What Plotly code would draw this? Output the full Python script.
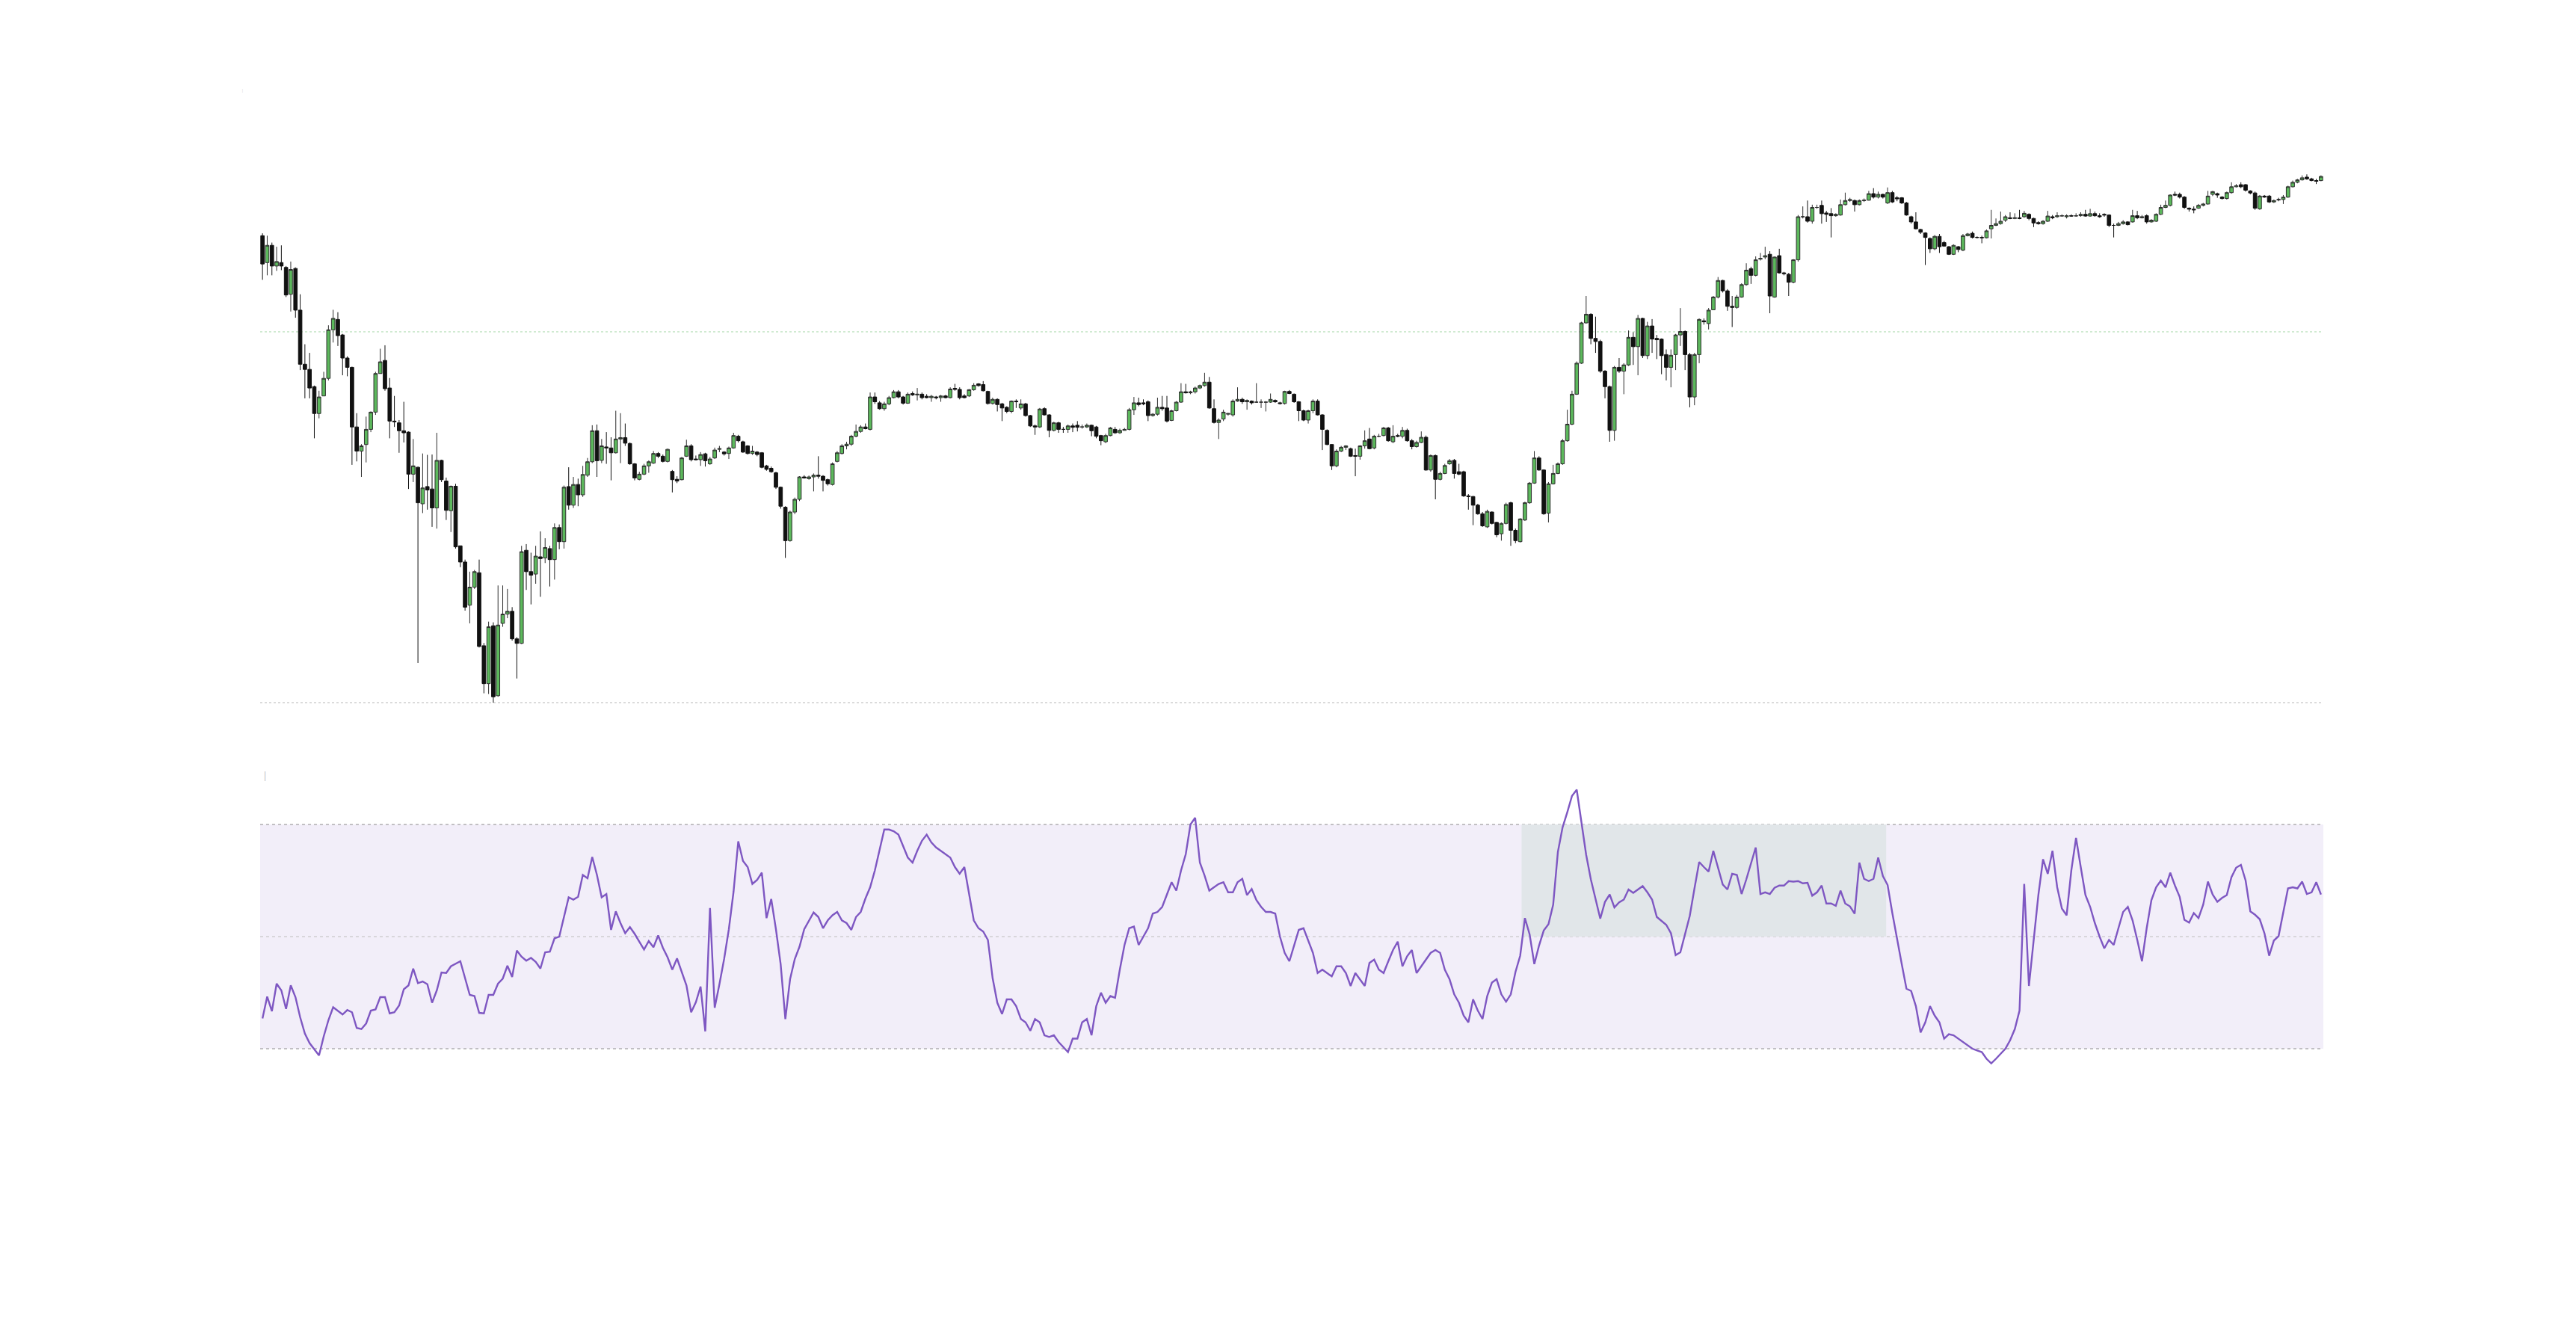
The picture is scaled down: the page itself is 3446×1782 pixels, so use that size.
import plotly.graph_objects as go

# ---------------- data ----------------
opens = [
    1410, 1332, 1382, 1322, 1332, 1318, 1240, 1315, 1194, 1037,
    1022, 972, 894, 945, 996, 1137, 1167, 1122, 1055, 1028,
    855, 785, 804, 848, 898, 1010, 1048, 968, 872, 867,
    844, 840, 718, 738, 632, 682, 675, 620, 758, 698,
    612, 683, 510, 463, 338, 390, 432, 220, 110, 278,
    75, 285, 312, 320, 240, 227, 497, 435, 428, 478,
    475, 502, 470, 563, 522, 682, 628, 688, 658, 715,
    754, 844, 758, 797, 794, 780, 820, 824, 807, 748,
    703, 718, 742, 750, 778, 770, 755, 726, 703, 702,
    770, 800, 762, 760, 777, 748, 765, 790, 782, 778,
    794, 828, 812, 800, 778, 782, 780, 742, 735, 722,
    680, 622, 525, 608, 645, 710, 705, 710, 715, 712,
    702, 688, 755, 778, 800, 805, 828, 842, 855, 848,
    942, 925, 908, 922, 940, 957, 942, 924, 952, 948,
    950, 944, 940, 942, 940, 945, 940,
    967, 964, 945, 945, 963, 980, 978, 958, 923, 935,
    922, 912, 900, 930, 910, 922, 888, 858, 855, 908,
    890, 845, 867, 848, 848, 858, 860, 855, 855, 860,
    855, 830, 812, 830, 848, 838, 845, 848, 905, 925,
    925, 928, 888, 892, 912, 910, 874, 902, 927, 957,
    954, 957, 968, 975, 985, 908, 868, 878, 892, 890,
    930, 935, 928, 930, 927, 927, 927, 927, 932, 925,
    923, 958, 950, 928, 902, 875, 902, 930, 890, 845,
    804, 742, 785, 796, 792, 772, 770, 800, 820, 794,
    828, 830, 852, 812, 830, 828, 845, 815, 798, 810,
    825, 730, 772, 703, 720, 748, 758, 725, 725, 655,
    653, 628, 603, 565, 608, 578, 545, 575, 635, 555,
    522, 585, 635, 692, 765, 730, 605, 690, 720, 748,
    815, 863, 950, 1040, 1157, 1182, 1112, 1103, 1017, 972,
    845, 1028, 1017, 1035, 1115, 1088, 1170,
    1062, 1148, 1112, 1110, 1065, 1028, 1065, 1122, 1132, 1065,
    942, 1065, 1163, 1155, 1195, 1232, 1280, 1250, 1205, 1202,
    1232, 1268, 1314, 1295, 1342, 1348, 1356, 1232, 1352, 1302,
    1298, 1275, 1340, 1465, 1465, 1452, 1492, 1498, 1476, 1474,
    1468, 1470, 1500, 1512, 1512, 1500, 1512, 1513, 1532, 1522,
    1530, 1505, 1535, 1520, 1520, 1505, 1465, 1450, 1428, 1418,
    1402, 1372, 1408, 1390, 1378, 1356, 1378, 1368, 1410, 1417,
    1405, 1405, 1404, 1430, 1440, 1445, 1455, 1462, 1460, 1462,
    1465, 1472, 1460, 1448, 1445, 1452, 1465, 1465, 1467, 1465,
    1468, 1467, 1468, 1472, 1467, 1474, 1468, 1472, 1470, 1440,
    1440, 1445, 1450, 1450, 1468, 1462, 1468, 1450, 1452, 1472,
    1492, 1498, 1530, 1530, 1522, 1490, 1487, 1490, 1498, 1502,
    1530, 1532, 1522, 1518, 1535, 1552, 1558, 1558, 1540, 1534,
    1488, 1525, 1525, 1508, 1515, 1515, 1522, 1552, 1565, 1572,
    1580, 1575, 1570, 1570,
]

highs = [
    1417, 1410, 1390, 1378, 1382, 1322, 1335, 1318, 1240, 1095,
    1070, 975, 960, 1015, 1150, 1195, 1188, 1125, 1060, 1030,
    895, 805, 885, 900, 1015, 1082, 1092, 997, 945, 875,
    928, 842, 820, 740, 778, 774, 775, 838, 760, 708,
    685, 690, 510, 470, 435, 440, 470, 228, 290, 288,
    395, 395, 385, 332, 245, 510, 515, 490, 510, 552,
    532, 510, 575, 572, 685, 738, 710, 705, 742, 765,
    860, 862, 820, 840, 825, 902, 895, 865, 810, 750,
    725, 748, 758, 785, 782, 775, 792, 730, 712, 768,
    818, 805, 772, 782, 780, 768, 795, 800, 785, 798,
    838, 832, 815, 802, 800, 785, 782, 745, 740, 725,
    682, 625, 612, 650, 712, 715, 714, 720, 770, 715,
    705, 752, 785, 805, 812, 832, 862, 860, 865, 955,
    955, 930, 928, 945, 962, 962, 945, 955, 958, 968,
    955, 950, 948, 945, 948, 948, 970,
    980, 970, 950, 965, 982, 982, 988, 960, 940, 938,
    925, 915, 932, 935, 935, 925, 890, 862, 910, 912,
    892, 870, 870, 855, 862, 865, 872, 862, 865, 862,
    858, 832, 835, 855, 855, 850, 852, 910, 942, 940,
    935, 932, 895, 940, 945, 945, 905, 930, 982, 980,
    960, 972, 978, 1012, 1000, 935, 880, 905, 895, 935,
    970, 940, 935, 932, 982, 935, 930, 952, 935, 928,
    960, 962, 952, 930, 905, 905, 935, 935, 892, 848,
    805, 790, 800, 802, 795, 792, 802, 845, 852, 832,
    835, 855, 855, 860, 835, 855, 850, 820, 815, 842,
    830, 775, 775, 725, 748, 762, 762, 748, 728, 660,
    655, 632, 608, 615, 610, 580, 578, 635, 638, 560,
    590, 638, 695, 785, 770, 732, 695, 745, 752, 820,
    905, 960, 1045, 1160, 1235, 1185, 1175, 1108, 1020, 975,
    1032, 1055, 1040, 1135, 1130, 1180, 1172,
    1160, 1168, 1122, 1112, 1080, 1080, 1125, 1200, 1135, 1070,
    1070, 1170, 1170, 1200, 1235, 1290, 1282, 1255, 1235, 1238,
    1272, 1330, 1320, 1350, 1360, 1378, 1365, 1350, 1372, 1305,
    1302, 1342, 1470, 1495, 1512, 1500, 1500, 1512, 1482, 1490,
    1475, 1515, 1535, 1520, 1515, 1515, 1518, 1540, 1548, 1538,
    1532, 1550, 1540, 1525, 1522, 1508, 1468, 1478, 1430, 1420,
    1405, 1412, 1415, 1395, 1380, 1385, 1380, 1415, 1418, 1422,
    1408, 1410, 1428, 1485, 1460, 1480, 1470, 1478, 1475, 1485,
    1482, 1475, 1462, 1452, 1455, 1482, 1470, 1478, 1472, 1472,
    1472, 1475, 1478, 1485, 1488, 1480, 1475, 1475, 1472, 1445,
    1450, 1455, 1452, 1485, 1482, 1470, 1472, 1458, 1475, 1500,
    1512, 1530, 1538, 1535, 1525, 1492, 1495, 1502, 1505, 1540,
    1540, 1535, 1525, 1538, 1565, 1560, 1565, 1560, 1542, 1538,
    1528, 1528, 1528, 1515, 1520, 1528, 1555, 1570, 1575, 1585,
    1588, 1578, 1575, 1585,
]

lows = [
    1282, 1295, 1295, 1308, 1310, 1232, 1190, 1172, 1020, 938,
    938, 822, 880, 945, 990, 1100, 1090, 1005, 1002, 745,
    755, 710, 752, 840, 890, 1010, 960, 822, 855, 780,
    810, 675, 695, 170, 605, 615, 565, 560, 695, 585,
    550, 502, 448, 322, 285, 385, 215, 82, 80, 55,
    72, 275, 300, 235, 125, 225, 382, 340, 400, 362,
    460, 392, 412, 500, 502, 615, 620, 625, 652, 710,
    750, 710, 750, 748, 700, 778, 750, 800, 745, 700,
    700, 715, 722, 748, 765, 752, 752, 665, 692, 700,
    768, 755, 758, 742, 740, 745, 762, 782, 772, 762,
    792, 810, 780, 775, 774, 770, 735, 728, 722, 675,
    618, 475, 522, 602, 640, 705, 702, 668, 705, 668,
    685, 685, 752, 775, 790, 800, 825, 838, 848, 845,
    922, 905, 902, 918, 938, 938, 920, 922, 945, 932,
    935, 938, 928, 935, 928, 938, 938,
    960, 935, 938, 942, 960, 972, 958, 920, 920, 900,
    872, 895, 895, 910, 905, 885, 855, 832, 852, 888,
    825, 842, 838, 838, 838, 840, 842, 850, 852, 828,
    822, 802, 808, 828, 835, 835, 845, 845, 890, 915,
    918, 872, 885, 888, 902, 868, 872, 900, 925, 952,
    950, 952, 965, 972, 908, 865, 820, 872, 888, 885,
    928, 922, 905, 920, 925, 910, 900, 925, 925, 920,
    920, 950, 925, 872, 872, 865, 895, 888, 788, 802,
    730, 738, 782, 788, 768, 712, 760, 792, 790, 790,
    825, 828, 812, 808, 825, 822, 812, 790, 795, 808,
    728, 725, 645, 700, 718, 745, 705, 715, 652, 615,
    570, 600, 565, 562, 572, 535, 525, 572, 510, 518,
    520, 582, 632, 690, 728, 600, 578, 688, 718, 745,
    812, 860, 948, 1038, 1155, 1095, 1070, 1012, 938, 812,
    815, 1012, 950, 1032, 1035, 1005, 1055,
    1052, 1070, 1052, 1008, 990, 970, 1020, 1090, 1020, 912,
    918, 1040, 1152, 1138, 1195, 1228, 1245, 1192, 1145, 1198,
    1230, 1265, 1270, 1292, 1338, 1342, 1185, 1230, 1300, 1295,
    1235, 1272, 1335, 1460, 1448, 1445, 1488, 1445, 1450, 1405,
    1465, 1468, 1498, 1508, 1480, 1498, 1508, 1512, 1518, 1518,
    1518, 1502, 1505, 1510, 1502, 1468, 1445, 1428, 1415, 1325,
    1360, 1368, 1360, 1378, 1354, 1354, 1362, 1365, 1408, 1402,
    1402, 1388, 1402, 1402, 1438, 1442, 1450, 1458, 1458, 1458,
    1462, 1455, 1435, 1442, 1442, 1450, 1458, 1462, 1465, 1460,
    1465, 1465, 1465, 1465, 1465, 1465, 1462, 1465, 1435, 1405,
    1438, 1442, 1440, 1448, 1458, 1460, 1445, 1448, 1450, 1470,
    1490, 1495, 1525, 1518, 1488, 1480, 1475, 1488, 1495, 1500,
    1525, 1520, 1515, 1515, 1532, 1550, 1548, 1538, 1530, 1485,
    1485, 1520, 1505, 1505, 1510, 1502, 1520, 1550, 1562, 1570,
    1572, 1568, 1560, 1568,
]

closes = [
    1328, 1382, 1322, 1335, 1322, 1238, 1312, 1194, 1037, 1022,
    968, 894, 942, 996, 1137, 1170, 1120, 1055, 1028, 855,
    785, 800, 848, 898, 1010, 1044, 966, 872, 870, 844,
    838, 718, 742, 635, 678, 672, 620, 758, 702, 613,
    683, 507, 463, 332, 390, 435, 218, 110, 275, 72,
    280, 312, 320, 240, 227, 493, 435, 425, 480, 473,
    505, 470, 563, 522, 680, 628, 688, 658, 717, 754,
    844, 757, 800, 794, 780, 820, 824, 808, 748, 707,
    718, 742, 754, 778, 770, 755, 790, 702, 698, 765,
    800, 760, 760, 775, 757, 762, 788, 792, 777, 794,
    830, 815, 782, 778, 785, 775, 738, 732, 725, 680,
    625, 525, 608, 645, 710, 707, 710, 715, 712, 700,
    690, 748, 780, 800, 805, 828, 842, 855, 850, 942,
    928, 908, 922, 940, 957, 942, 924, 950, 948, 950,
    940, 940, 944, 940, 945, 940, 965,
    964, 940, 940, 963, 976, 975, 960, 923, 935, 920,
    910, 900, 930, 928, 922, 888, 858, 855, 907, 890,
    845, 867, 848, 848, 858, 854, 854, 855, 860, 844,
    828, 815, 830, 852, 838, 845, 848, 905, 925, 920,
    922, 888, 892, 912, 908, 872, 902, 927, 957, 954,
    957, 968, 975, 985, 910, 868, 875, 898, 894, 930,
    935, 928, 932, 925, 927, 927, 927, 935, 928, 923,
    958, 952, 928, 902, 875, 902, 930, 890, 848, 804,
    742, 785, 796, 800, 770, 770, 800, 815, 792, 828,
    828, 852, 815, 828, 828, 845, 815, 798, 810, 825,
    730, 772, 703, 720, 743, 757, 720, 718, 655, 653,
    628, 603, 568, 610, 575, 542, 575, 630, 555, 525,
    588, 635, 692, 765, 730, 603, 690, 720, 748, 815,
    863, 950, 1040, 1157, 1182, 1112, 1103, 1017, 972, 845,
    1028, 1017, 1035, 1115, 1088, 1170, 1062,
    1148, 1110, 1108, 1062, 1028, 1063, 1122, 1132, 1065, 942,
    1065, 1167, 1160, 1194, 1232, 1280, 1250, 1205, 1202, 1232,
    1268, 1310, 1295, 1340, 1344, 1352, 1235, 1348, 1302, 1300,
    1275, 1340, 1465, 1465, 1452, 1492, 1492, 1474, 1472, 1468,
    1472, 1500, 1512, 1515, 1500, 1512, 1513, 1532, 1522, 1530,
    1522, 1535, 1508, 1517, 1505, 1470, 1450, 1430, 1420, 1405,
    1372, 1408, 1378, 1380, 1356, 1382, 1370, 1410, 1415, 1405,
    1405, 1404, 1424, 1440, 1445, 1452, 1465, 1460, 1462, 1460,
    1475, 1460, 1447, 1445, 1452, 1467, 1462, 1468, 1468, 1468,
    1467, 1468, 1472, 1467, 1474, 1468, 1465, 1470, 1440, 1440,
    1445, 1450, 1442, 1468, 1462, 1465, 1450, 1455, 1472, 1492,
    1498, 1528, 1528, 1522, 1492, 1487, 1485, 1498, 1502, 1525,
    1538, 1528, 1518, 1535, 1552, 1555, 1552, 1542, 1534, 1490,
    1525, 1522, 1508, 1512, 1514, 1522, 1552, 1565, 1572, 1578,
    1575, 1570, 1568, 1582,
]

rsi = [
    35.4, 39.3, 36.7, 41.6, 40.4, 37.1, 41.3, 39.2, 35.6, 32.7,
    31.0, 29.9, 28.8, 32.2, 35.1, 37.4, 36.7, 36.1, 36.9, 36.5,
    33.7, 33.5, 34.5, 36.8, 37.0, 39.2, 39.2, 36.3, 36.5, 37.7,
    40.6, 41.3, 44.3, 41.7, 42.0, 41.5, 38.2, 40.4, 43.6, 43.5,
    44.7, 45.2, 45.6, 42.6, 39.6, 39.4, 36.4, 36.3, 39.6, 39.6,
    41.6, 42.5, 44.8, 42.8, 47.5, 46.4, 45.7, 46.2, 45.5, 44.3,
    47.2, 47.3, 49.7, 50.0, 53.4, 57.0, 56.6, 57.1, 61.0, 60.4,
    64.2, 61.0, 57.0, 57.6, 51.2, 54.5, 52.4, 50.6, 51.7, 50.5,
    49.1, 47.7, 49.2, 48.1, 50.2, 48.0, 46.3, 44.1, 46.1, 43.8,
    41.3, 36.5, 38.3, 41.1, 33.1, 55.1, 37.3, 41.5, 46.0, 51.3,
    58.0, 67.0, 63.5, 62.4, 59.4, 60.1, 61.4, 53.3, 56.7, 51.3,
    45.1, 35.3, 42.4, 46.0, 48.2, 51.3, 52.8, 54.3, 53.5,
    51.5, 52.9, 53.8, 54.4, 52.9, 52.4, 51.2, 53.5, 54.4, 56.8,
    58.8, 61.8, 65.3, 69.1, 69.1, 68.8, 68.2, 66.2, 64.1, 63.2,
    65.3, 67.1, 68.2, 66.8, 65.9, 65.3, 64.7, 64.1, 62.4, 61.2,
    62.4, 57.4, 52.9, 51.5, 50.9, 49.4, 42.6, 38.2, 36.2, 38.8,
    38.8, 37.6, 35.3, 34.7, 33.2, 35.3, 34.7, 32.4, 32.1, 32.4,
    31.2, 30.3, 29.4, 31.8, 31.8, 34.7, 35.3, 32.4, 37.6, 40.0,
    38.2, 39.4, 39.1, 44.1, 48.5, 51.5, 51.8, 48.5, 50.0, 51.5,
    54.1, 54.4, 55.3, 57.4, 59.7, 58.2, 61.8, 64.7, 70.0, 71.2,
    63.2, 60.9, 58.2, 58.8, 59.4, 59.7, 57.9, 57.9, 59.7, 60.3,
    57.4, 58.5, 56.5, 55.3, 54.4, 54.4, 54.1, 50.0, 47.1, 45.6,
    48.5, 51.2, 51.5, 49.4, 47.1, 43.5, 44.1, 43.5, 42.9, 44.7,
    44.7, 43.5, 41.2, 43.5, 42.4, 41.2, 45.3, 45.9, 44.1, 43.5,
    45.6, 47.6, 49.1, 44.7, 46.5, 47.6, 43.5, 44.7, 45.9, 47.1,
    47.6, 47.1, 44.1, 42.4, 39.7, 38.2, 35.9, 34.7, 38.8, 36.8,
    35.3, 39.4, 41.8,
    42.4, 39.7, 38.4, 39.7, 43.7, 46.6, 53.3, 50.4, 45.1, 48.4,
    51.1, 52.2, 55.7, 65.1, 69.5, 72.2, 75.1, 76.2, 70.2, 64.6,
    60.2, 56.6, 53.2, 56.2, 57.5, 55.2, 56.1, 56.6, 58.4, 57.8,
    58.4, 59.0, 57.9, 56.6, 53.5, 52.8, 52.1, 50.6, 46.7, 47.2,
    50.4, 53.7, 58.6, 63.3, 62.4, 61.6, 65.3, 62.4, 59.3, 58.4,
    61.2, 61.0, 57.6, 60.2, 63.1, 65.9, 57.6, 57.9, 57.6, 58.7,
    59.1, 59.1, 59.9, 59.8, 59.9, 59.5, 59.6, 57.3, 57.9, 59.1,
    55.9, 55.9, 55.5, 58.2, 55.9, 55.4, 54.1, 63.2, 60.3, 59.9,
    60.3, 64.1, 60.8, 59.2, 54.2, 49.5, 45.1, 40.7, 40.3, 37.6,
    32.9, 34.7, 37.6, 35.9, 34.7, 31.8, 32.6, 32.4, 31.8, 31.2,
    30.6, 30.0, 29.7, 29.4, 28.2, 27.4, 28.2, 29.1, 30.0, 31.5,
    33.5, 36.8, 59.4, 41.2, 49.4, 57.4, 63.8, 61.2, 65.3, 58.8,
    55.0, 53.8, 61.8, 67.6, 62.4, 57.4, 55.3, 52.4, 50.0, 47.9,
    49.4, 48.5, 51.5, 54.4, 55.3, 52.9, 49.4, 45.6, 51.5, 56.5,
    58.8, 60.0, 58.8,
    61.4, 59.1, 57.1, 53.0, 52.5, 54.2, 53.3, 55.7, 59.8, 57.5,
    56.2, 56.9, 57.4, 60.6, 62.3, 62.8, 60.0, 54.5, 53.9, 53.1,
    50.6, 46.6, 49.3, 50.1, 54.2, 58.6, 58.8, 58.6, 59.8, 57.6,
    57.9, 59.7, 57.5,
]

price_levels = {"upper_ref": 1131, "base": 55}      # dotted reference lines (price panel)
rsi_levels = [30, 50, 70]                            # oscillator band lines
highlight_x = [267.3, 344.7]                         # highlighted stretch (bar index)
highlight_y = [50, 70]

# ---------------- figure ----------------
n = min(len(opens), len(highs), len(lows), len(closes))
x_idx = list(range(n))
x_rsi = list(range(len(rsi)))

fig = go.Figure()

fig.add_trace(go.Candlestick(
    x=x_idx, open=opens[:n], high=highs[:n], low=lows[:n], close=closes[:n],
    xaxis="x", yaxis="y",
    increasing=dict(fillcolor="#5cb85c", line=dict(color="#2e2e2e", width=1)),
    decreasing=dict(fillcolor="#111111", line=dict(color="#111111", width=1)),
    whiskerwidth=0, showlegend=False, hoverinfo="skip",
))

fig.add_trace(go.Scatter(
    x=x_rsi, y=rsi, mode="lines", xaxis="x2", yaxis="y2",
    line=dict(color="#7e57c2", width=2.4), showlegend=False, hoverinfo="skip",
))

shapes = []
shapes.append(dict(type="rect", xref="x2 domain", yref="y2", x0=0, x1=1,
                   y0=rsi_levels[0], y1=rsi_levels[2],
                   fillcolor="rgba(126,87,194,0.10)", line=dict(width=0), layer="below"))
shapes.append(dict(type="rect", xref="x2", yref="y2", x0=highlight_x[0], x1=highlight_x[1],
                   y0=highlight_y[0], y1=highlight_y[1],
                   fillcolor="#e1e6e9", line=dict(width=0), layer="below"))
for lvl in rsi_levels:
    col = "#bdbdbd" if lvl == 50 else "#8c8c8c"
    shapes.append(dict(type="line", xref="x2 domain", yref="y2", x0=0, x1=1, y0=lvl, y1=lvl,
                       line=dict(color=col, width=1, dash="4px,4px"), layer="below"))
shapes.append(dict(type="line", xref="x domain", yref="y", x0=0, x1=1,
                   y0=price_levels["upper_ref"], y1=price_levels["upper_ref"],
                   line=dict(color="rgba(102,187,106,0.55)", width=1, dash="dot"), layer="below"))
shapes.append(dict(type="line", xref="x domain", yref="y", x0=0, x1=1,
                   y0=price_levels["base"], y1=price_levels["base"],
                   line=dict(color="#b8b8b8", width=1, dash="dot"), layer="below"))

# page body has an 8px default margin: size the figure so it fits the window
OFF = 8
W, H = 3446 - 2 * OFF, 1782 - 2 * OFF
ml, mt = 348 - OFF, 100 - OFF
mr = W - (3108 - OFF)
mb = H - (1560 - OFF)
plot_h = H - mt - mb


def paper_y(screen_y):
    return (H - mb - (screen_y - OFF)) / plot_h


def paper_x(screen_x):
    return ((screen_x - OFF) - ml) / (W - ml - mr)


top_dom = [paper_y(944), 1.0]
bot_dom = [0.0, paper_y(960)]

axis_common = dict(showgrid=False, zeroline=False, showline=False,
                   showticklabels=False, ticks="")

fig.update_layout(
    width=W, height=H,
    margin=dict(l=ml, r=mr, t=mt, b=mb),
    paper_bgcolor="white", plot_bgcolor="white",
    showlegend=False,
    boxgap=0.1, boxgroupgap=0.18,
    shapes=shapes,
    xaxis=dict(domain=[0, 1], anchor="y", range=[-0.5, n - 0.5],
               rangeslider=dict(visible=False), **axis_common),
    yaxis=dict(domain=top_dom, anchor="x", range=[46.3, 1877.1], **axis_common),
    xaxis2=dict(domain=[0, 1], anchor="y2", range=[-0.5, n - 0.5], **axis_common),
    yaxis2=dict(domain=bot_dom, anchor="x2", range=[9.07, 89.07], **axis_common),
    annotations=[
        dict(text="|", xref="paper", yref="paper", x=paper_x(321), y=paper_y(116),
             showarrow=False, font=dict(size=5, color="#cccccc")),
        dict(text="|", xref="paper", yref="paper", x=paper_x(349), y=paper_y(1037),
             showarrow=False, font=dict(size=13, color="#b8b8c0")),
    ],
)

fig.write_html("out.html")
